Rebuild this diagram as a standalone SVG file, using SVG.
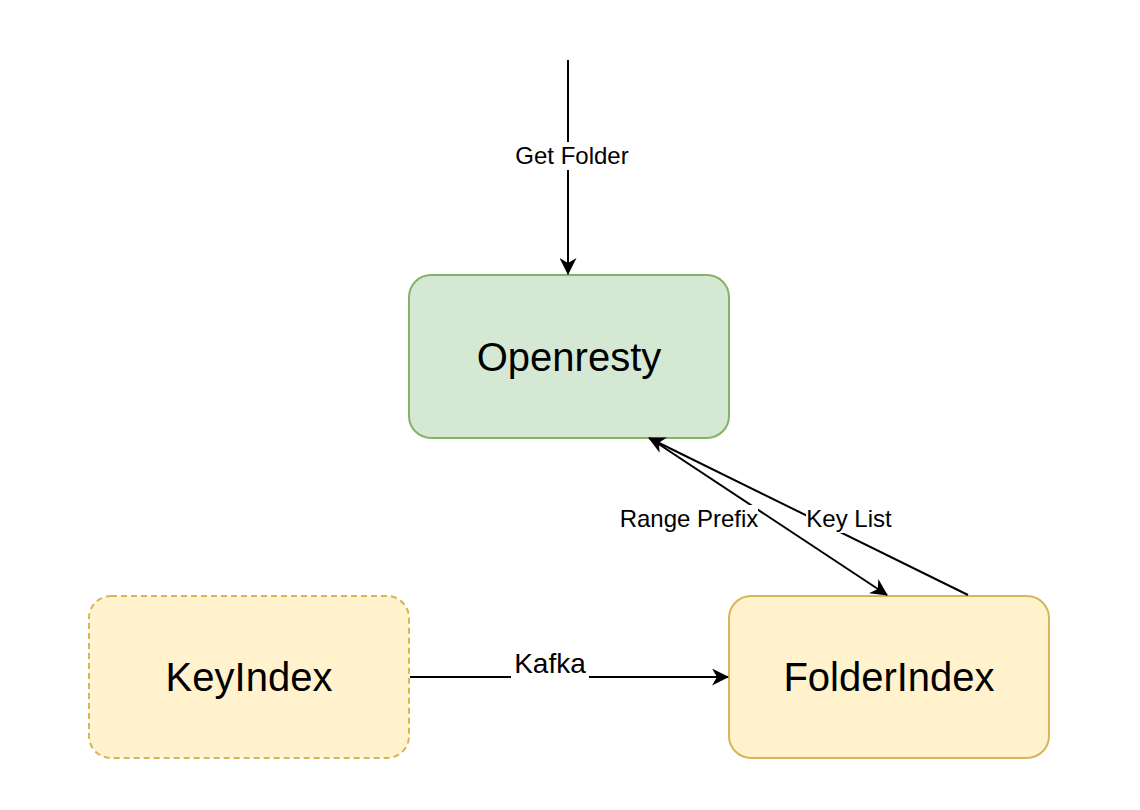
<svg xmlns="http://www.w3.org/2000/svg" width="1140" height="810" viewBox="0 0 1140 810">
<style>
.lbl{font-family:"Liberation Sans",Arial,sans-serif;fill:#000;text-anchor:middle}
.node-t{font-size:40px}
.edge-t{font-size:24px}
.edge{stroke:#000;stroke-width:2;fill:none}
.green{fill:#d5e8d4;stroke:#82b366;stroke-width:2}
.yellow{fill:#fff2cc;stroke:#d6b656;stroke-width:2}
</style>
<defs>
<marker id="arr" markerUnits="userSpaceOnUse" viewBox="0 0 17 17" refX="16" refY="8.5" markerWidth="17" markerHeight="17" orient="auto">
<path d="M0,0 L17,8.5 L0,17 L5,8.5 z" fill="#000"/>
</marker>
</defs>
<rect width="1140" height="810" fill="#fff"/>
<g id="openresty">
<rect class="green" x="409" y="275" width="320" height="163" rx="22"/>
<text class="lbl node-t" x="569" y="371">Openresty</text>
</g>
<g id="keyindex">
<rect class="yellow" x="89" y="596" width="320" height="162" rx="22" stroke-dasharray="6 4"/>
<text class="lbl node-t" x="249" y="691">KeyIndex</text>
</g>
<g id="folderindex">
<rect class="yellow" x="729" y="596" width="320" height="162" rx="22"/>
<text class="lbl node-t" x="889" y="691">FolderIndex</text>
</g>
<g id="connectors">
<line class="edge" x1="568" y1="60" x2="568" y2="274" marker-end="url(#arr)"/>
<line class="edge" x1="651" y1="439" x2="887" y2="595" marker-end="url(#arr)"/>
<line class="edge" x1="968" y1="595" x2="649" y2="438" marker-end="url(#arr)"/>
<line class="edge" x1="410" y1="677" x2="728" y2="677" marker-end="url(#arr)"/>
<rect x="514" y="142" width="116" height="28" fill="#fff"/>
<text class="lbl edge-t" x="572" y="164">Get Folder</text>
<rect x="619" y="505" width="139" height="28" fill="#fff"/>
<text class="lbl edge-t" x="689" y="527">Range Prefix</text>
<rect x="806" y="505" width="88" height="28" fill="#fff"/>
<text class="lbl edge-t" x="849" y="527">Key List</text>
<rect x="511" y="648" width="78" height="30" fill="#fff"/>
<text class="lbl" x="550" y="673" font-size="28">Kafka</text>
</g>
</svg>
